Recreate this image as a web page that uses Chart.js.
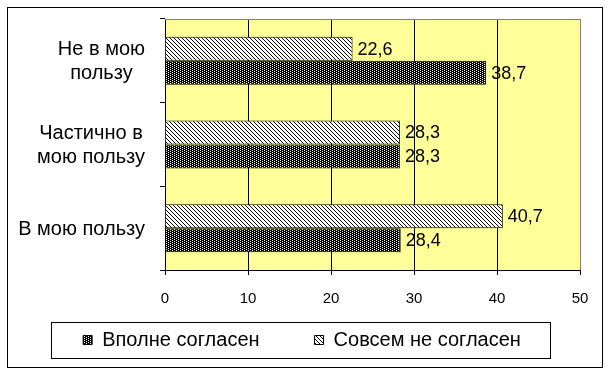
<!DOCTYPE html>
<html><head><meta charset="utf-8">
<script src="https://cdn.jsdelivr.net/npm/chart.js@4"></script>
<style>html,body{margin:0;padding:0;background:#fff}#wrap{width:610px;height:375px}</style>
</head><body><div id="wrap"><canvas id="c" width="610" height="375"></canvas></div>
<script>
// ---- data ----
const categories = [['Не в мою', 'пользу'], ['Частично в', 'мою пользу'], ['В мою пользу']];
const seriesNames = ['Совсем не согласен', 'Вполне согласен'];
const notAgree = [22.6, 28.3, 40.7];
const fullyAgree = [38.7, 28.3, 28.4];
const xTicks = [0, 10, 20, 30, 40, 50];

// ---- styles ----
const FONT = '"Liberation Sans", Arial, sans-serif';
const LEG_PAD = 55;     // spacing between legend items
const LEG_H = 70;       // legend box height in layout
const LEG_SHIFT_Y = -30;
const LEG_SHIFT_X = 7;
const canvas = document.getElementById('c');
const ctx0 = canvas.getContext('2d');
function makePattern(w, h, draw) {
  const c = document.createElement('canvas'); c.width = w; c.height = h;
  draw(c.getContext('2d'));
  return ctx0.createPattern(c, 'repeat');
}
const hatch = makePattern(4, 4, g => {
  g.fillStyle = '#fff'; g.fillRect(0, 0, 4, 4);
  g.fillStyle = '#000'; for (let i = 0; i < 4; i++) g.fillRect(i, i, 1, 1);
});
const dots = makePattern(4, 2, g => {
  g.fillStyle = '#000'; g.fillRect(0, 0, 4, 2);
  g.fillStyle = '#fff'; g.fillRect(0, 0, 1, 1); g.fillRect(2, 1, 1, 1);
});
const fmt = v => v.toFixed(1).replace('.', ',');

const deco = {
  id: 'deco',
  beforeLayout(chart) {
    const lg = chart.legend;
    if (lg && !lg._wrapped) {
      const f = lg.fit;
      lg.fit = function () { f.call(this); this.height = LEG_H; };
      lg._wrapped = true;
    }
  },
  afterLayout(chart) {
    const lg = chart.legend;
    if (lg) {
      lg.top += LEG_SHIFT_Y;
      lg.left += LEG_SHIFT_X; lg.right += LEG_SHIFT_X;
    }
  },
  beforeDraw(chart) {
    const { ctx, chartArea: a } = chart;
    ctx.save();
    ctx.fillStyle = '#FFFF99';
    ctx.fillRect(a.left, a.top, a.right - a.left, a.bottom - a.top);
    ctx.restore();
  },
  afterDatasetsDraw(chart) {
    const { ctx } = chart;
    ctx.save();
    ctx.font = '18px ' + FONT;
    ctx.fillStyle = '#000';
    ctx.textAlign = 'left';
    ctx.textBaseline = 'middle';
    chart.data.datasets.forEach((ds, i) => {
      chart.getDatasetMeta(i).data.forEach((bar, j) => {
        ctx.fillText(fmt(ds.data[j]), bar.x + 5, bar.y + 1);
      });
    });
    ctx.restore();
  },
  afterDraw(chart) {
    const { ctx, chartArea: a } = chart;
    ctx.save();
    // top border of plot area
    ctx.strokeStyle = '#808080'; ctx.lineWidth = 1;
    ctx.beginPath(); ctx.moveTo(a.left, Math.round(a.top) + 0.5); ctx.lineTo(a.right + 1, Math.round(a.top) + 0.5); ctx.stroke();
    // category labels (lines centred within a right-aligned block)
    const ys = chart.scales.y;
    ctx.font = '20px ' + FONT; ctx.fillStyle = '#000';
    ctx.textAlign = 'center'; ctx.textBaseline = 'middle';
    const lh = 24;
    categories.forEach((lines, i) => {
      const y = ys.getPixelForValue(i);
      const w = Math.max(...lines.map(l => ctx.measureText(l).width));
      const cx = ys.right - 20 - w / 2;
      lines.forEach((l, k) => ctx.fillText(l, cx, y + (k - (lines.length - 1) / 2) * lh + 1));
    });
    // legend frame
    const hb = chart.legend.legendHitBoxes;
    if (hb && hb.length) {
      const minL = Math.min(...hb.map(h => h.left));
      const maxR = Math.max(...hb.map(h => h.left + h.width));
      const cy = hb[0].top + hb[0].height / 2;
      ctx.strokeStyle = '#000';
      ctx.strokeRect(Math.round(minL - 32) + 0.5, Math.round(cy - 18) + 0.5, Math.round(maxR - minL + 61), 36);
    }
    // outer frame
    ctx.strokeStyle = '#000';
    ctx.strokeRect(7.5, 7.5, 595, 360);
    ctx.restore();
  }
};

new Chart(canvas, {
  type: 'bar',
  data: {
    labels: categories.map(l => l.join(' ')),
    datasets: [
      { label: seriesNames[0], data: notAgree, backgroundColor: hatch, borderColor: '#000', borderWidth: 1 },
      { label: seriesNames[1], data: fullyAgree, backgroundColor: dots, borderColor: '#000', borderWidth: 1 }
    ]
  },
  options: {
    indexAxis: 'y',
    responsive: false,
    animation: false,
    events: [],
    layout: { padding: { left: 10, right: 30, top: 19, bottom: 0 } },
    datasets: { bar: { categoryPercentage: 0.574, barPercentage: 1 } },
    scales: {
      x: {
        min: 0, max: 50,
        afterBuildTicks: s => { s.ticks = xTicks.map(v => ({ value: v })); },
        afterFit: s => { s.height = 35; },
        grid: {
          color: c => (c.tick && c.tick.value === 50) ? '#808080' : '#000',
          tickColor: '#000', tickLength: 5, lineWidth: 1
        },
        border: { display: true, color: '#000' },
        ticks: { color: '#000', padding: 15, font: { family: FONT, size: 15 } }
      },
      y: {
        type: 'category',
        afterFit: s => { s.width = 155; },
        grid: { offset: true, drawOnChartArea: false, color: '#000', tickLength: 5 },
        border: { display: true, color: '#000' },
        ticks: { display: false }
      }
    },
    plugins: {
      tooltip: { enabled: false },
      legend: {
        position: 'bottom',
        reverse: true,
        labels: { boxWidth: 9, boxHeight: 9, padding: LEG_PAD, color: '#000', font: { family: FONT, size: 20 } }
      }
    }
  },
  plugins: [deco]
});
</script>
</body></html>
